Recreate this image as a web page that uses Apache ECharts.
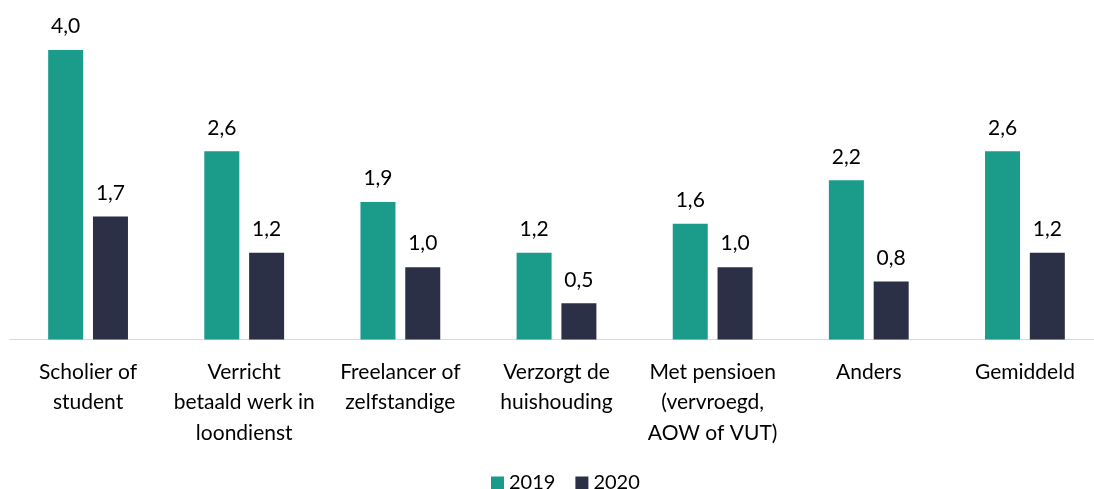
<!DOCTYPE html>
<html>
<head>
<meta charset="utf-8">
<script src="https://cdn.jsdelivr.net/npm/echarts@6/dist/echarts.min.js"></script>
<style>
  html, body { margin: 0; padding: 0; background: #fff; }
  #chart { width: 1094px; height: 489px; }
</style>
</head>
<body>
<div id="chart"></div>
<script>
  // categories and values
  const categories = [
    'Scholier of\nstudent',
    'Verricht\nbetaald werk in\nloondienst',
    'Freelancer of\nzelfstandige',
    'Verzorgt de\nhuishouding',
    'Met pensioen\n(vervroegd,\nAOW of VUT)',
    'Anders',
    'Gemiddeld'
  ];
  const values2019 = [4.0, 2.6, 1.9, 1.2, 1.6, 2.2, 2.6];
  const values2020 = [1.7, 1.2, 1.0, 0.5, 1.0, 0.8, 1.2];

  const font = 'Lato, "Open Sans", sans-serif';
  const fmt = p => p.value.toFixed(1).replace('.', ',');

  let chart = echarts.init(document.getElementById('chart'));
  chart.setOption({
    animation: false,
    textStyle: {fontFamily: font},
    grid: {
      left: 10,
      top: 50,
      width: 1093,
      height: 289.5,
      outerBoundsMode: 'none',
      containLabel: false
    },
    legend: {
      top: 468,
      left: 486,
      itemWidth: 13,
      itemHeight: 13,
      itemGap: 20,
      icon: 'rect',
      textStyle: {fontSize: 20, color: '#000', fontFamily: font},
      data: ['2019', '2020']
    },
    xAxis: {
      type: 'category',
      data: categories,
      axisLine: {lineStyle: {color: '#d9d9d9', width: 1}},
      axisTick: {show: false},
      axisLabel: {
        interval: 0,
        margin: 17,
        fontSize: 21,
        lineHeight: 30.5,
        color: '#000',
        fontFamily: font
      }
    },
    yAxis: {
      type: 'value',
      min: 0,
      max: 4,
      show: false,
      splitLine: {show: false}
    },
    series: [
      {
        name: '2019',
        type: 'bar',
        data: values2019,
        barWidth: 35,
        barGap: '28%',
        itemStyle: {color: '#1b9b8a'},
        label: {
          show: true,
          position: 'top',
          distance: 13,
          fontSize: 21,
          color: '#000',
          fontFamily: font,
          formatter: fmt
        }
      },
      {
        name: '2020',
        type: 'bar',
        data: values2020,
        barWidth: 35,
        itemStyle: {color: '#2b3046'},
        label: {
          show: true,
          position: 'top',
          distance: 13,
          fontSize: 21,
          color: '#000',
          fontFamily: font,
          formatter: fmt
        }
      }
    ]
  });
</script>
</body>
</html>
